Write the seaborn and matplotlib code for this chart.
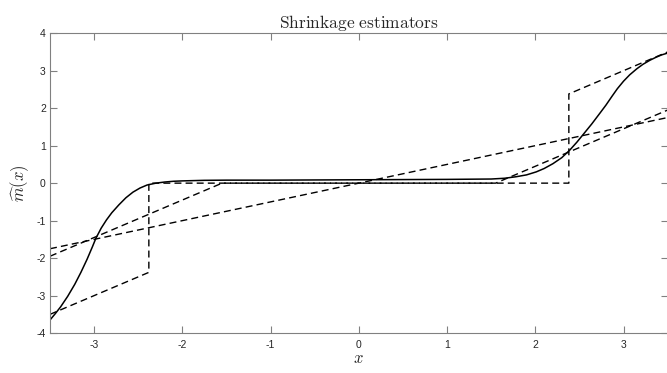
import numpy as np
import pandas as pd
import matplotlib
matplotlib.use("Agg")
import matplotlib.pyplot as plt
import seaborn as sns

# ============================================================
# Data
# ============================================================
# smooth (solid) estimator
smooth_x = [-3.50, -3.44, -3.38, -3.30, -3.22, -3.15, -3.08, -3.02, -2.98, -2.92,
            -2.86, -2.80, -2.72, -2.64, -2.56, -2.48, -2.40, -2.30, -2.20, -2.10,
            -2.00, -1.75, -1.50, -1.00, 0.00, 1.00, 1.50, 1.65, 1.78, 1.90,
            2.01, 2.10, 2.20, 2.30, 2.39, 2.47, 2.55, 2.64, 2.73, 2.80,
            2.87, 2.93, 3.00, 3.07, 3.15, 3.22, 3.30, 3.37, 3.43, 3.50]
smooth_y = [-3.65, -3.48, -3.30, -3.02, -2.70, -2.38, -2.03, -1.70, -1.47, -1.20,
            -0.98, -0.79, -0.58, -0.39, -0.24, -0.13, -0.05, 0.00, 0.03, 0.05,
            0.06, 0.075, 0.08, 0.08, 0.09, 0.10, 0.11, 0.13, 0.17, 0.22,
            0.30, 0.39, 0.52, 0.68, 0.88, 1.09, 1.32, 1.58, 1.86, 2.08,
            2.32, 2.52, 2.72, 2.89, 3.05, 3.17, 3.28, 3.36, 3.42, 3.47]

# hard threshold (dashed)
hard_x = [-3.50, -2.38, -2.38, 2.38, 2.38, 3.50]
hard_y = [-3.50, -2.38, 0.00, 0.00, 2.38, 3.50]

# soft threshold (dashed)
soft_x = [-3.50, -1.55, 1.55, 3.50]
soft_y = [-1.95, 0.00, 0.00, 1.95]

# linear / ridge (dashed)
ridge_x = [-3.50, 3.50]
ridge_y = [-1.75, 1.75]

x_ticks = [-3, -2, -1, 0, 1, 2, 3]
y_ticks = [-4, -3, -2, -1, 0, 1, 2, 3, 4]

# ============================================================
# Style
# ============================================================
sns.set_style("ticks")
plt.rcParams["font.family"] = ["Liberation Sans", "DejaVu Sans"]
plt.rcParams["mathtext.fontset"] = "cm"
plt.rcParams["axes.unicode_minus"] = False

fig = plt.figure(figsize=(6.67, 3.73), dpi=100)
ax = fig.add_axes([0.075, 0.107, 0.926, 0.804])

dash = (5, 3)
for xs, ys in [(hard_x, hard_y), (soft_x, soft_y), (ridge_x, ridge_y)]:
    df = pd.DataFrame({"x": xs, "y": ys})
    sns.lineplot(data=df, x="x", y="y", ax=ax, sort=False, estimator=None,
                 color="black", linewidth=1.0, dashes=False)
    ax.lines[-1].set_dashes(dash)

df_s = pd.DataFrame({"x": smooth_x, "y": smooth_y})
sns.lineplot(data=df_s, x="x", y="y", ax=ax, sort=False, estimator=None,
             color="black", linewidth=1.1)

ax.set_xlim(-3.5, 3.5)
ax.set_ylim(-4, 4)
ax.set_xticks(x_ticks)
ax.set_yticks(y_ticks)
ax.set_xticklabels([str(t) for t in x_ticks])
ax.set_yticklabels([str(t) for t in y_ticks])

for s in ax.spines.values():
    s.set_color("#808080")
    s.set_linewidth(0.8)
ax.tick_params(direction="in", length=5, width=0.8, color="#808080",
               labelsize=7.5, labelcolor="#262626",
               top=True, right=True)
ax.tick_params(axis="x", pad=5)
ax.tick_params(axis="y", pad=3)

ax.set_title(r"$\mathrm{Shrinkage\ estimators}$", fontsize=12.5, pad=4)
ax.set_xlabel(r"$x$", fontsize=12, labelpad=1)
ax.set_ylabel(r"$\widehat{m}(x)$", fontsize=12, labelpad=4)

fig.savefig("out.png", dpi=100)
